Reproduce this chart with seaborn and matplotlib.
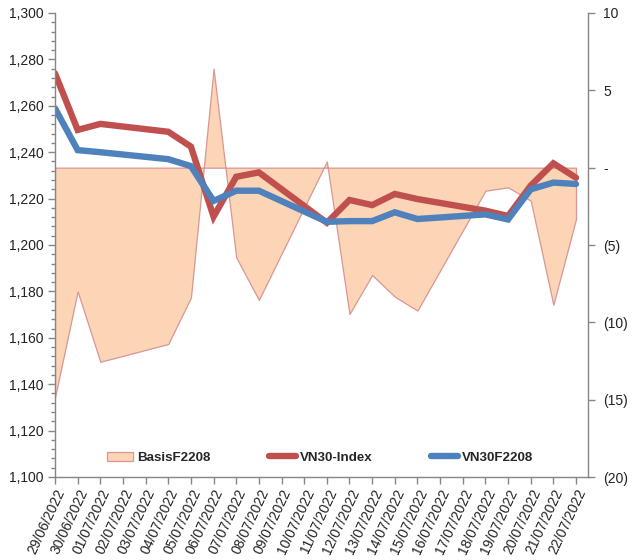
import matplotlib
matplotlib.use("Agg")
import matplotlib.pyplot as plt
import matplotlib.dates as mdates
from matplotlib.ticker import MultipleLocator, FuncFormatter
import seaborn as sns
import pandas as pd
import numpy as np

dates = ["2022-06-29", "2022-06-30", "2022-07-01", "2022-07-04", "2022-07-05",
         "2022-07-06", "2022-07-07", "2022-07-08", "2022-07-11", "2022-07-12",
         "2022-07-13", "2022-07-14", "2022-07-15", "2022-07-18", "2022-07-19",
         "2022-07-20", "2022-07-21", "2022-07-22"]
vn30_index = [1274.0, 1249.6, 1252.2, 1248.8, 1242.4, 1212.2, 1229.4, 1231.3, 1209.6,
              1219.4, 1217.2, 1222.0, 1219.8, 1214.8, 1212.5, 1225.6, 1235.2, 1229.0]
vn30f2208 = [1258.9, 1240.9, 1240.0, 1237.0, 1234.0, 1219.0, 1223.4, 1223.4, 1210.0,
             1210.3, 1210.3, 1214.1, 1211.2, 1213.2, 1211.0, 1224.0, 1226.9, 1226.3]
basis = [-14.85, -8.0, -12.55, -11.4, -8.4, 6.4, -5.8, -8.55, 0.4,
         -9.46, -6.94, -8.34, -9.24, -1.49, -1.27, -2.13, -8.86, -3.32]

df = pd.DataFrame({"date": pd.to_datetime(dates), "VN30-Index": vn30_index,
                   "VN30F2208": vn30f2208, "BasisF2208": basis})

sns.set_theme(style="white")
plt.rcParams["font.family"] = ["Liberation Sans", "DejaVu Sans"]

fig = plt.figure(figsize=(6.32, 5.6), dpi=100)
ax = fig.add_axes([55/632, 1-477/560, (588-55)/632, (477-13)/560])
ax2 = ax.twinx()

red = "#C0504D"
blue = "#4F81BD"
fillc = "#FBD5B5"
edgec = "#D99694"
grey = "#868686"

area = ax2.fill_between(df["date"], df["BasisF2208"], 0, facecolor=fillc,
                        edgecolor=edgec, linewidth=0.9, label="BasisF2208")
ax2.set_ylim(-20, 10)
ax2.yaxis.set_major_locator(MultipleLocator(5))

def rfmt(v, pos):
    v = int(round(v))
    if v == 0:
        return "-"
    if v < 0:
        return f"({-v})"
    return f"{v}"
ax2.yaxis.set_major_formatter(FuncFormatter(rfmt))

sns.lineplot(data=df, x="date", y="VN30-Index", ax=ax, color=red, linewidth=4.6,
             label="VN30-Index", solid_capstyle="round", solid_joinstyle="miter", legend=False)
sns.lineplot(data=df, x="date", y="VN30F2208", ax=ax, color=blue, linewidth=4.6,
             label="VN30F2208", solid_capstyle="round", solid_joinstyle="miter", legend=False)

ax.set_zorder(ax2.get_zorder() + 1)
ax.patch.set_visible(False)

ax.set_ylim(1100, 1300)
ax.yaxis.set_major_locator(MultipleLocator(20))
ax.yaxis.set_minor_locator(MultipleLocator(4))
ax.yaxis.set_major_formatter(FuncFormatter(lambda v, p: f"{int(v):,}"))

start = pd.Timestamp("2022-06-29")
end = pd.Timestamp("2022-07-22")
ax.set_xlim(start, end + pd.Timedelta(hours=12.7))
ticks = pd.date_range(start, end, freq="D")
ax.set_xticks(ticks)
ax.set_xticklabels([t.strftime("%d/%m/%Y") for t in ticks], rotation=65,
                   ha="right", rotation_mode="anchor")
ax.set_xlabel("")
ax.set_ylabel("")
ax2.set_ylabel("")

for a in (ax, ax2):
    for s in a.spines.values():
        s.set_color(grey)
        s.set_linewidth(1.0)
    a.spines["top"].set_visible(False)
ax.spines["right"].set_visible(False)
ax2.spines["left"].set_visible(False)
ax2.spines["bottom"].set_visible(False)

ax.tick_params(axis="y", which="major", direction="out", length=5, width=1, color=grey,
               labelsize=10, labelcolor="#222222", left=True, pad=3)
ax.tick_params(axis="y", which="minor", direction="out", length=3, width=1, color=grey, left=True)
ax.tick_params(axis="x", which="major", direction="out", length=5, width=1, color=grey,
               labelsize=10, labelcolor="#222222", bottom=True, pad=2)
ax2.tick_params(axis="y", which="major", direction="out", length=5, width=1, color=grey,
                labelsize=10, labelcolor="#222222", right=True, pad=6)

h1, l1 = ax.get_legend_handles_labels()
handles = [area] + h1
labels = ["BasisF2208"] + l1
leg = ax.legend(handles, labels, loc="center", bbox_to_anchor=(0.497, 0.041), ncol=3,
                frameon=False, handlelength=2.0, handletextpad=0.3, columnspacing=4.4,
                prop={"weight": "bold", "size": 9.6})

fig.savefig("out.png", dpi=100)
